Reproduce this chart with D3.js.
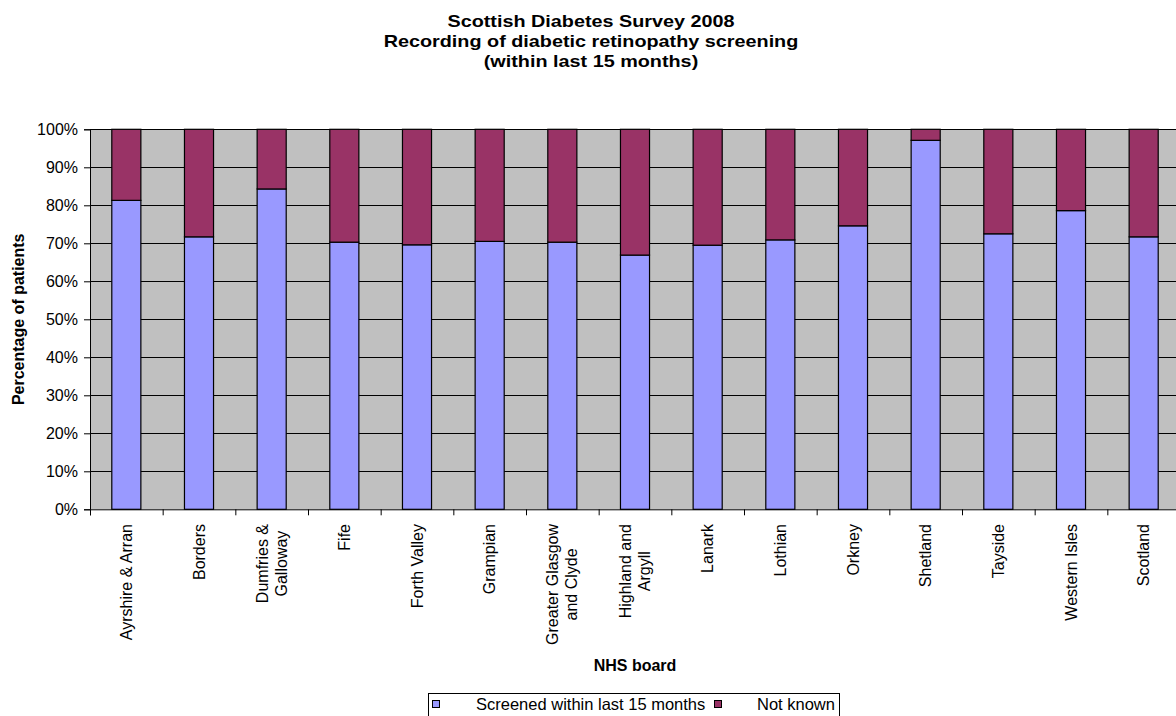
<!DOCTYPE html>
<html>
<head>
<meta charset="utf-8">
<script src="https://cdn.jsdelivr.net/npm/d3@7"></script>
<style>
  html, body { margin: 0; padding: 0; background: #ffffff; }
  svg { display: block; }
  text { font-family: "Liberation Sans", Arial, Helvetica, sans-serif; fill: #000; }
</style>
</head>
<body>
<svg id="chart" width="1176" height="716"></svg>
<script>
// NHS boards (label lines as printed under each bar)
const boards = [
  "Ayrshire & Arran", "Borders", "Dumfries & Galloway", "Fife", "Forth Valley",
  "Grampian", "Greater Glasgow and Clyde", "Highland and Argyll", "Lanark",
  "Lothian", "Orkney", "Shetland", "Tayside", "Western Isles", "Scotland"
];
const boardLabelLines = [
  ["Ayrshire & Arran"], ["Borders"], ["Dumfries &", "Galloway"], ["Fife"],
  ["Forth Valley"], ["Grampian"], ["Greater Glasgow", "and Clyde"],
  ["Highland and", "Argyll"], ["Lanark"], ["Lothian"], ["Orkney"],
  ["Shetland"], ["Tayside"], ["Western Isles"], ["Scotland"]
];

// Percentage of patients per board
const screened = [81.3, 71.7, 84.3, 70.3, 69.6, 70.5, 70.3, 66.9, 69.5, 70.9, 74.6, 97.1, 72.5, 78.6, 71.7];
const notKnown = [18.7, 28.3, 15.7, 29.7, 30.4, 29.5, 29.7, 33.1, 30.5, 29.1, 25.4, 2.9, 27.5, 21.4, 28.3];

const seriesNames = ["Screened within last 15 months", "Not known"];
const seriesColors = ["#9999FF", "#993366"];

const yTicks = [0, 10, 20, 30, 40, 50, 60, 70, 80, 90, 100];

const titleLines = [
  "Scottish Diabetes Survey 2008",
  "Recording of diabetic retinopathy screening",
  "(within last 15 months)"
];
const yTitle = "Percentage of patients";
const xTitle = "NHS board";

// ---- layout ----
const svg = d3.select("#chart");
const plot = { left: 90, right: 1180, top: 129.3, bottom: 509.3 };

const x = d3.scaleBand()
  .domain(boards)
  .range([plot.left, plot.right])
  .paddingInner(0.6)
  .paddingOuter(0.3);

const xEdge = d3.scaleLinear()
  .domain([0, boards.length])
  .range([plot.left, plot.right]);

const y = d3.scaleLinear()
  .domain([0, 100])
  .range([plot.bottom, plot.top]);

// plot area background
svg.append("rect")
  .attr("x", plot.left).attr("y", plot.top)
  .attr("width", plot.right - plot.left).attr("height", plot.bottom - plot.top)
  .attr("fill", "#C0C0C0");

// horizontal gridlines
svg.append("g")
  .selectAll("line")
  .data(yTicks.filter(t => t > 0))
  .join("line")
  .attr("x1", plot.left).attr("x2", plot.right)
  .attr("y1", d => Math.round(y(d)) + 0.5).attr("y2", d => Math.round(y(d)) + 0.5)
  .attr("stroke", "#000").attr("stroke-width", 1);

// stacked bars
const rows = boards.map((b, i) => ({ board: b, screened: screened[i], notKnown: notKnown[i] }));
const stack = d3.stack().keys(["screened", "notKnown"])(rows);

svg.append("g")
  .selectAll("g")
  .data(stack)
  .join("g")
  .attr("fill", (d, i) => seriesColors[i])
  .selectAll("rect")
  .data(d => d)
  .join("rect")
  .attr("x", d => x(d.data.board))
  .attr("y", d => y(d[1]))
  .attr("width", x.bandwidth())
  .attr("height", d => y(d[0]) - y(d[1]))
  .attr("stroke", "#000")
  .attr("stroke-width", 1.2);

// y axis
const yAxis = svg.append("g")
  .attr("transform", `translate(${plot.left},0)`)
  .call(d3.axisLeft(y).tickValues(yTicks).tickSize(6).tickPadding(6).tickFormat(d => d + "%"));
yAxis.select(".domain").attr("stroke", "#000");
yAxis.selectAll(".tick line").attr("stroke", "#000");
yAxis.selectAll(".tick text")
  .attr("font-size", 16)
  .attr("font-family", "Liberation Sans, Arial, sans-serif")
  .attr("fill", "#000");

// x axis with ticks between categories
const xAxis = svg.append("g")
  .attr("transform", `translate(0,${plot.bottom})`)
  .call(d3.axisBottom(xEdge).tickValues(d3.range(boards.length + 1)).tickSize(6).tickFormat(""));
xAxis.select(".domain").attr("stroke", "#000");
xAxis.selectAll(".tick line").attr("stroke", "#000");

// category labels, rotated, multi-line blocks centred on each bar
const fs = 16, lh = 19, labelTop = 524;
const labelG = svg.append("g");
boardLabelLines.forEach((lines, i) => {
  const cx = x(boards[i]) + x.bandwidth() / 2;
  const g = labelG.append("g");
  const texts = lines.map((ln, j) =>
    g.append("text").attr("font-size", fs).attr("text-anchor", "middle").text(ln));
  const maxLen = d3.max(texts, t => t.node().getComputedTextLength());
  const cy = labelTop + maxLen / 2;
  texts.forEach((t, j) => {
    const off = (j - (lines.length - 1) / 2) * lh;
    t.attr("transform", `translate(${cx + off},${cy}) rotate(-90)`)
     .attr("dy", "0.35em");
  });
});

// titles (slightly widened heading face)
const titleG = svg.append("g");
titleLines.forEach((t, i) => {
  titleG.append("text")
    .attr("transform", `translate(591,${27 + i * 20}) scale(1.2,1)`)
    .attr("text-anchor", "middle")
    .attr("font-weight", "bold")
    .attr("font-size", 16.5)
    .text(t);
});

svg.append("text")
  .attr("transform", `translate(24,${(plot.top + plot.bottom) / 2}) rotate(-90)`)
  .attr("text-anchor", "middle")
  .attr("font-weight", "bold")
  .attr("font-size", 16)
  .text(yTitle);

svg.append("text")
  .attr("x", 635).attr("y", 671)
  .attr("text-anchor", "middle")
  .attr("font-weight", "bold")
  .attr("font-size", 16)
  .text(xTitle);

// legend
const legend = svg.append("g");
legend.append("rect")
  .attr("x", 428.5).attr("y", 693.5).attr("width", 411).attr("height", 32)
  .attr("fill", "#fff").attr("stroke", "#000").attr("stroke-width", 1);
const legendItems = [
  { name: seriesNames[0], color: seriesColors[0], sx: 432.5, tx: 476 },
  { name: seriesNames[1], color: seriesColors[1], sx: 714.5, tx: 757 }
];
legendItems.forEach(it => {
  legend.append("rect")
    .attr("x", it.sx).attr("y", 700.5).attr("width", 7).attr("height", 7)
    .attr("fill", it.color).attr("stroke", "#000").attr("stroke-width", 1);
  legend.append("text")
    .attr("x", it.tx).attr("y", 710)
    .attr("font-size", 16.5)
    .text(it.name);
});
</script>
</body>
</html>
